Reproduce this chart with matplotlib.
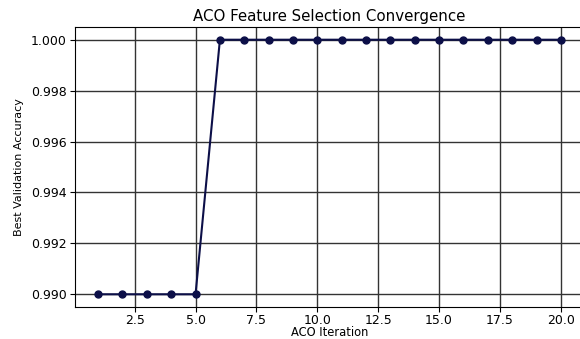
import numpy as np
import matplotlib
matplotlib.use("Agg")
import matplotlib.pyplot as plt

# best validation accuracy per ACO iteration
iterations = list(range(1, 21))
best_acc = [0.990, 0.990, 0.990, 0.990, 0.990,
            1.000, 1.000, 1.000, 1.000, 1.000,
            1.000, 1.000, 1.000, 1.000, 1.000,
            1.000, 1.000, 1.000, 1.000, 1.000]

plt.rcParams['font.family'] = ['DejaVu Sans']

fig = plt.figure(figsize=(5.8, 3.39), dpi=100)
# the axes run a little past the right edge, as in the reference crop
ax = fig.add_axes([0.1293, 0.0944, 0.8776, 0.826])

ax.plot(iterations, best_acc, color='#0c0f48', linewidth=1.5,
        marker='o', markersize=5, zorder=3)

ax.set_yticks([0.990, 0.992, 0.994, 0.996, 0.998, 1.000])
ax.yaxis.set_major_formatter(matplotlib.ticker.FormatStrFormatter('%.3f'))
ax.grid(True, color='#333333', linewidth=1.0)
ax.set_axisbelow(True)
ax.tick_params(labelsize=9, width=0.8, length=3.5, pad=2.5)
ax.tick_params(axis='x', pad=1.5)

ax.set_title('ACO Feature Selection Convergence', fontsize=10.8, pad=4)
ax.set_xlabel('ACO Iteration', fontsize=8.3, labelpad=-1)
ax.set_ylabel('Best Validation Accuracy', fontsize=8, labelpad=5)

for s in ax.spines.values():
    s.set_linewidth(0.8)

fig.savefig('out.png', dpi=100)
